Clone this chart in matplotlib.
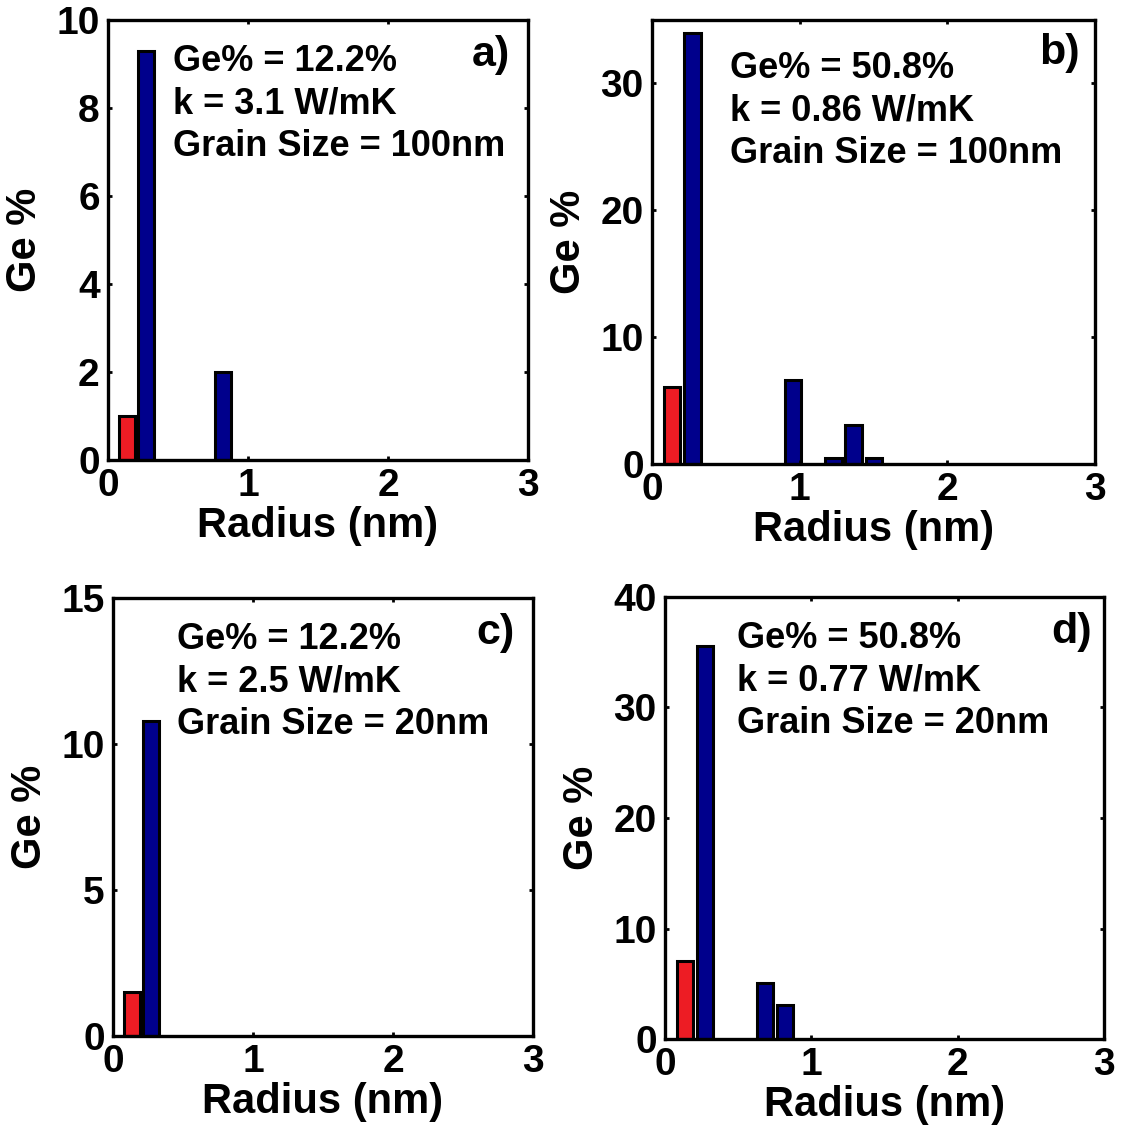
import matplotlib
matplotlib.use("Agg")
import matplotlib.pyplot as plt

plt.rcParams["font.family"] = ["Liberation Sans", "DejaVu Sans"]
plt.rcParams["font.weight"] = "bold"

# bin centres (nm) and Ge % per panel, red = first shell, blue = rest
red_r = [0.137]
red_a = [1.0]
red_b = [6.1]
red_c = [1.5]
red_d = [7.1]

blue_r_a = [0.273, 0.819]
blue_a = [9.3, 2.0]
blue_r_b = [0.273, 0.956, 1.229, 1.365, 1.502]
blue_b = [34.0, 6.6, 0.5, 3.1, 0.5]
blue_r_c = [0.273]
blue_c = [10.8]
blue_r_d = [0.273, 0.683, 0.819]
blue_d = [35.6, 5.1, 3.1]

notes = [["Ge% = 12.2%", "k = 3.1 W/mK", "Grain Size = 100nm"],
         ["Ge% = 50.8%", "k = 0.86 W/mK", "Grain Size = 100nm"],
         ["Ge% = 12.2%", "k = 2.5 W/mK", "Grain Size = 20nm"],
         ["Ge% = 50.8%", "k = 0.77 W/mK", "Grain Size = 20nm"]]
letters = ["a)", "b)", "c)", "d)"]
ylims = [10, 35, 15, 40]
yticks = [[0, 2, 4, 6, 8, 10], [0, 10, 20, 30], [0, 5, 10, 15], [0, 10, 20, 30, 40]]

red = "#ed1c24"
blue = "#00008c"
w = 0.112

fig = plt.figure(figsize=(11.22, 11.30), dpi=100)
boxes = [[0.0963, 0.5929, 0.3743, 0.3894],
         [0.5811, 0.5894, 0.3949, 0.3929],
         [0.1007, 0.0832, 0.3743, 0.3876],
         [0.5927, 0.0805, 0.3913, 0.3912]]
note_pos = [(0.155, 0.945), (0.176, 0.93), (0.152, 0.945), (0.164, 0.945)]
letter_pos = [(0.957, 0.965), (0.966, 0.97), (0.957, 0.965), (0.973, 0.965)]
reds = [red_a, red_b, red_c, red_d]
blues = [(blue_r_a, blue_a), (blue_r_b, blue_b), (blue_r_c, blue_c), (blue_r_d, blue_d)]

for i in range(4):
    ax = fig.add_axes(boxes[i])
    ax.bar(red_r, reds[i], width=w, color=red, edgecolor="k", linewidth=2.2)
    ax.bar(blues[i][0], blues[i][1], width=w, color=blue, edgecolor="k", linewidth=2.2)
    ax.set_xlim(0, 3)
    ax.set_ylim(0, ylims[i])
    ax.set_xticks([0, 1, 2, 3])
    ax.set_yticks(yticks[i])
    ax.tick_params(direction="in", length=3, width=2, top=True, right=True,
                   labelsize=28, pad=6)
    for s in ax.spines.values():
        s.set_linewidth(2.4)
    ax.set_xlabel("Radius (nm)", fontsize=30, fontweight="bold", labelpad=1)
    ax.set_ylabel("Ge %", fontsize=30, fontweight="bold", labelpad=8)
    # one text per line, 42 px apart
    for j, line in enumerate(notes[i]):
        ax.annotate(line, xy=note_pos[i], xycoords="axes fraction",
                    xytext=(0, -30.5 * j), textcoords="offset points",
                    fontsize=26, fontweight="bold", va="top", ha="left")
    ax.text(letter_pos[i][0], letter_pos[i][1], letters[i], transform=ax.transAxes,
            fontsize=31, fontweight="bold", va="top", ha="right")

plt.savefig("out.png", dpi=100)
